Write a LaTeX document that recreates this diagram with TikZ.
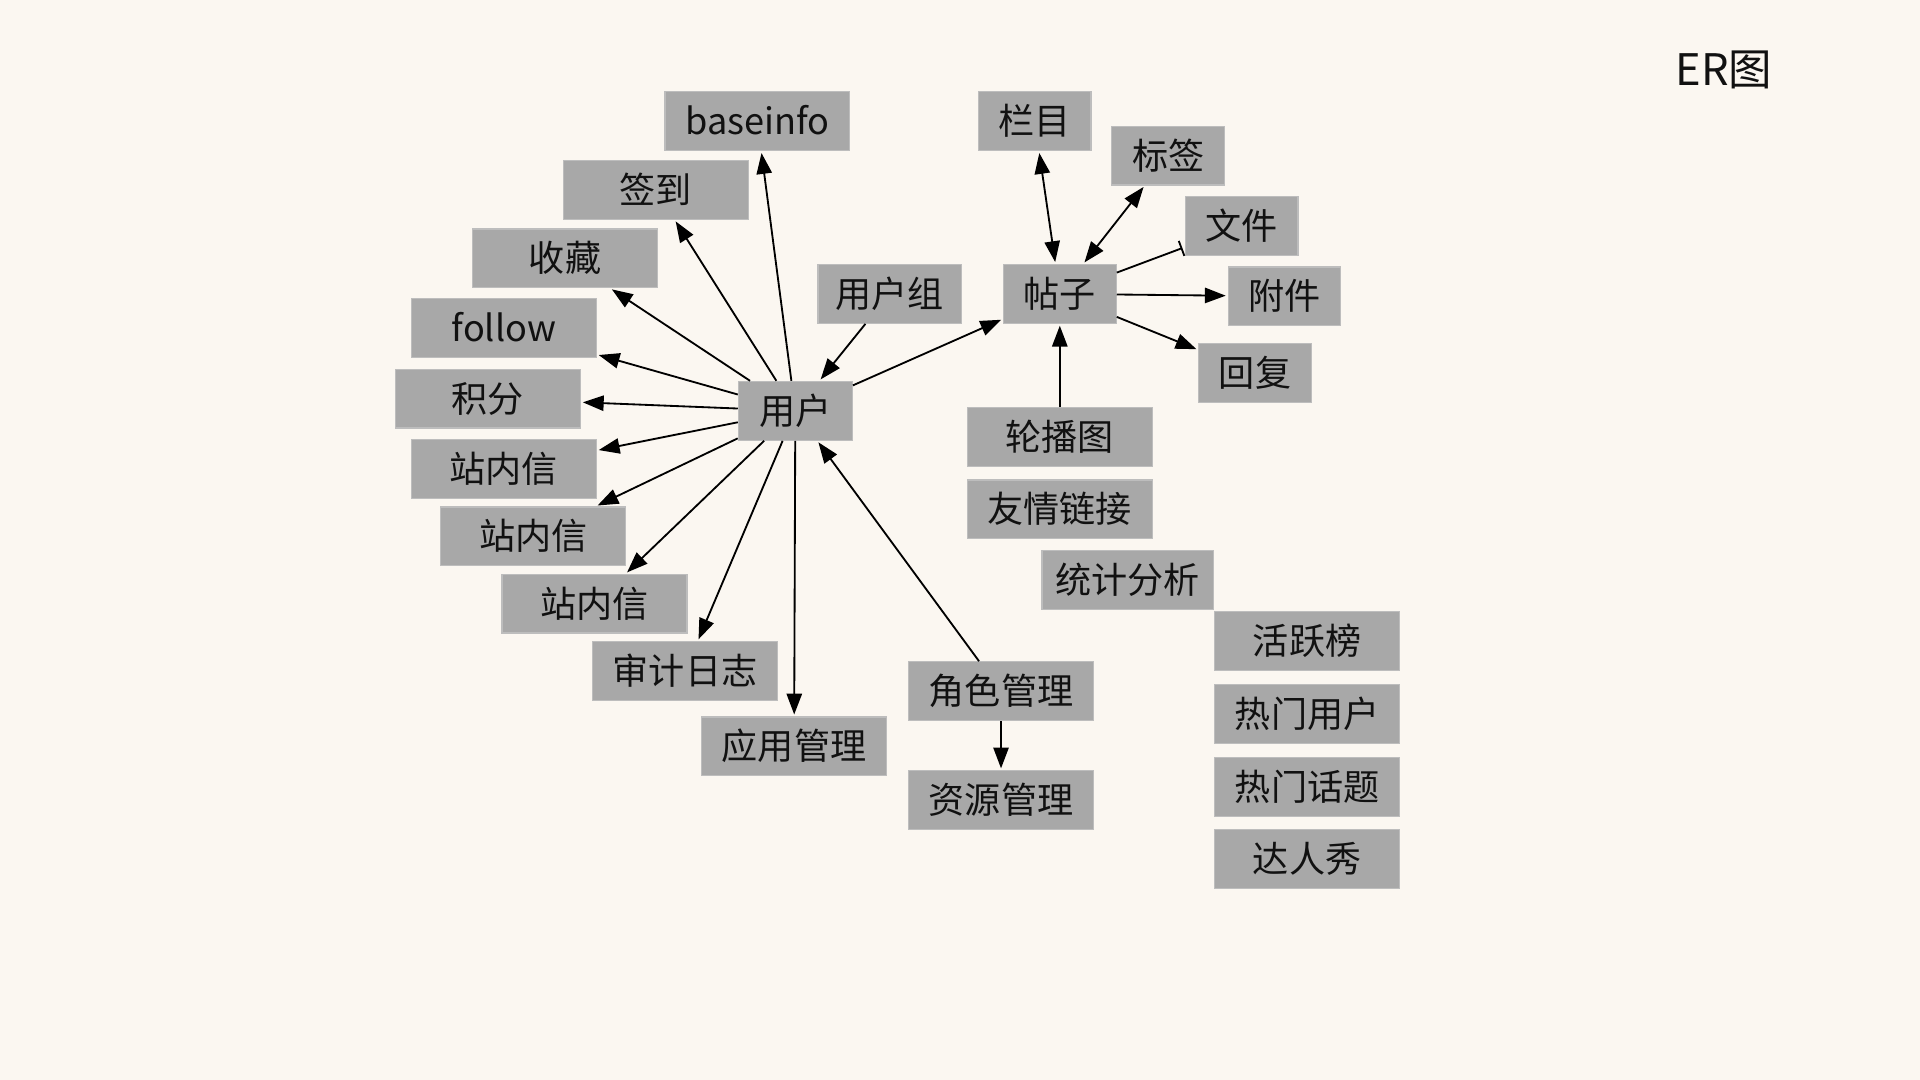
\documentclass[tikz,border=0pt]{standalone}
\usepackage{fontspec}
\newfontfamily\cjk{Noto Sans CJK SC}
\usetikzlibrary{arrows.meta}
\definecolor{bgc}{HTML}{FBF7F1}
\definecolor{boxfill}{HTML}{A8A8A8}
\definecolor{boxline}{HTML}{BDBDBD}
\definecolor{txt}{HTML}{111111}
\tikzset{
  ent/.style={draw=boxline, line width=1pt, fill=boxfill, inner sep=0pt,
    minimum height=48pt, text=txt,
    font=\cjk\fontsize{29.5}{31}\selectfont, text height=25.8pt, text depth=3.7pt},
  wA/.style={minimum width=151pt},
  wB/.style={minimum width=92pt},
  link/.style={line width=1.5pt, shorten >=1.5pt, -{Triangle[length=17pt,width=12.5pt]}},
  dlink/.style={line width=1.5pt, shorten >=1.5pt, shorten <=1.5pt, {Triangle[length=17pt,width=12.5pt]}-{Triangle[length=17pt,width=12.5pt]}},
  blink/.style={line width=1.5pt, shorten >=2pt, -{Bar[width=13pt,line width=1.5pt]}},
}
\begin{document}
\begin{tikzpicture}[x=1pt,y=-1pt]
\fill[bgc] (0,0) rectangle (1568,882);
\useasboundingbox (0,0) rectangle (1568,882);

\node[font=\cjk\fontsize{35.5}{37}\selectfont, text=txt, inner sep=0pt] (title) at (1408,57) {ER图};

% user cluster
\node[ent, minimum width=93pt] (user) at (649.5,335.5) {用户};
\node[ent, wA] (baseinfo) at (618.5,99) {baseinfo};
\node[ent, wA] (qiandao) at (535.5,155) {签到};
\node[ent, wA] (shoucang) at (461.5,211) {收藏};
\node[ent, wA] (follow) at (411.5,268) {follow};
\node[ent, wA] (jifen) at (398.5,325.5) {积分};
\node[ent, wA] (znx1) at (411.5,383) {站内信};
\node[ent, wA] (znx2) at (435.5,438) {站内信};
\node[ent, wA] (znx3) at (485.5,493) {站内信};
\node[ent, wA] (shenji) at (559.5,548) {审计日志};
\node[ent, wA] (yingyong) at (648.5,609.5) {应用管理};
\node[ent, minimum width=117pt] (yhz) at (726.5,240) {用户组};
\node[ent, wA] (juese) at (817.5,564.5) {角色管理};
\node[ent, wA] (ziyuan) at (817.5,653.5) {资源管理};

% post cluster
\node[ent, wB] (tiezi) at (865.5,240) {帖子};
\node[ent, wB] (lanmu) at (845,99) {栏目};
\node[ent, wB] (biaoqian) at (954,127) {标签};
\node[ent, wB] (wenjian) at (1014,184.5) {文件};
\node[ent, wB] (fujian) at (1049,242) {附件};
\node[ent, wB] (huifu) at (1025,304.5) {回复};
\node[ent, wA] (lunbo) at (865.5,357) {轮播图};
\node[ent, wA] (youqing) at (865.5,416) {友情链接};
\node[ent, minimum width=140pt] (tongji) at (921,473.5) {统计分析};
\node[ent, wA] (huoyue) at (1067.5,523.5) {活跃榜};
\node[ent, wA] (rmyh) at (1067.5,583) {热门用户};
\node[ent, wA] (rmht) at (1067.5,642.5) {热门话题};
\node[ent, wA] (darx) at (1067.5,701.5) {达人秀};

% connectors from user
\draw[link] (user) -- (baseinfo);
\draw[link] (user) -- (qiandao);
\draw[link] (user) -- (shoucang);
\draw[link] (user) -- (follow);
\draw[link] (user) -- (jifen);
\draw[link] (user) -- (znx1);
\draw[link] (user) -- (znx2);
\draw[link] (user) -- (znx3);
\draw[link] (user) -- (shenji);
\draw[link] (user) -- (yingyong);
\draw[link] (yhz) -- (user);
\draw[link] (juese) -- (user);
\draw[link] (juese) -- (ziyuan);
\draw[link] (user) -- (tiezi);

% connectors around post
\draw[dlink] (tiezi) -- (lanmu);
\draw[dlink] (tiezi) -- (biaoqian);
\draw[blink] (tiezi) -- (wenjian);
\draw[link] (tiezi) -- (fujian);
\draw[link] (tiezi) -- (huifu);
\draw[link] (lunbo) -- (tiezi);
\end{tikzpicture}
\end{document}
